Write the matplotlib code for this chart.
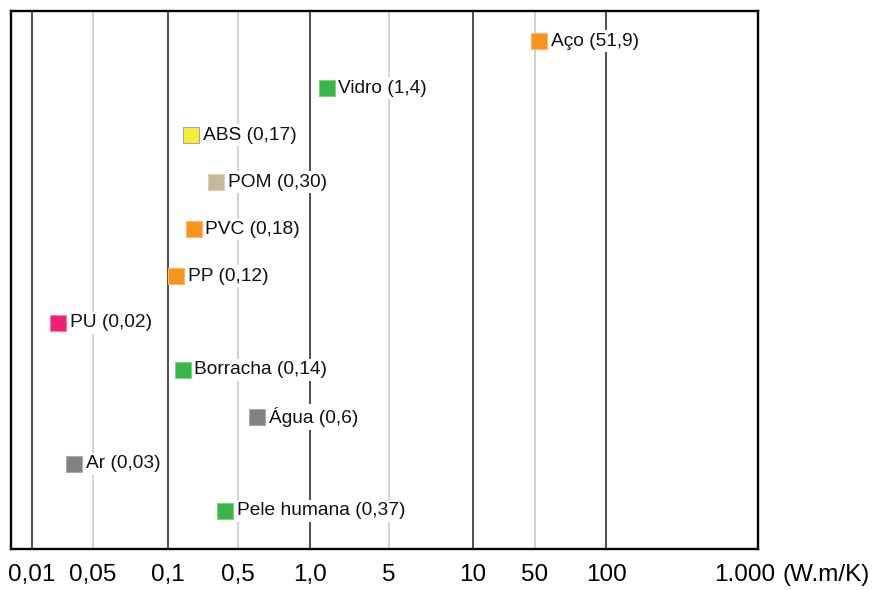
import matplotlib
matplotlib.use('Agg')
import matplotlib.pyplot as plt
import numpy as np

plt.rcParams['font.family'] = ['Liberation Sans', 'DejaVu Sans']

# Data: thermal conductivity (W.m/K)
materials = ['Aço', 'Vidro', 'ABS', 'POM', 'PVC', 'PP', 'PU', 'Borracha', 'Água', 'Ar', 'Pele humana']
values = [51.9, 1.4, 0.17, 0.30, 0.18, 0.12, 0.02, 0.14, 0.6, 0.03, 0.37]
value_text = ['51,9', '1,4', '0,17', '0,30', '0,18', '0,12', '0,02', '0,14', '0,6', '0,03', '0,37']
colors = ['#F7941D', '#39B54A', '#F4EC3A', '#C4B79D', '#F7941D', '#F7941D',
          '#EC2176', '#39B54A', '#808285', '#808285', '#39B54A']
edge_colors = ['#FBB86A', '#7ED08A', '#A8A8A8', '#D8CEBA', '#FBB86A', '#FBB86A',
               '#F57AAA', '#7ED08A', '#A8A9AB', '#A8A9AB', '#7ED08A']

tick_vals = [0.01, 0.05, 0.1, 0.5, 1, 5, 10, 50, 100, 1000]
tick_text = ['0,01', '0,05', '0,1', '0,5', '1,0', '5', '10', '50', '100', '1.000']
major_lines = [0.01, 0.1, 1, 10, 100]
minor_lines = [0.05, 0.5, 5, 50]

# hand-drawn axis: piecewise log scale between the labelled ticks
scale_vals = np.log10([0.001, 0.01, 0.05, 0.1, 0.5, 1, 5, 10, 50, 100, 1000, 10000])
scale_pos = [-104, 32, 93, 168, 238, 310, 389, 473, 535, 606, 745, 884]


def forward(x):
    x = np.asarray(x, dtype=float)
    return np.interp(np.log10(np.clip(x, 1e-9, None)), scale_vals, scale_pos)


def inverse(p):
    return 10 ** np.interp(np.asarray(p, dtype=float), scale_pos, scale_vals)


fig = plt.figure(figsize=(8.9, 5.9), dpi=100)
ax = fig.add_axes([11 / 890, 41 / 590, 747 / 890, 538 / 590])
ax.set_xscale('function', functions=(forward, inverse))
ax.set_xlim(0.007, 1240)

n = len(materials)
ax.set_ylim(n - 1 + 0.81, -0.64)
ax.set_yticks([])

for v in major_lines:
    ax.axvline(v, color='#4d4d4d', lw=1.4, zorder=1)
for v in minor_lines:
    ax.axvline(v, color='#d0d0d0', lw=1.4, zorder=1)

for i, (m, v, t) in enumerate(zip(materials, values, value_text)):
    ax.plot(v, i, marker='s', ms=11.5, color=colors[i], mec=edge_colors[i],
            mew=0.8, zorder=4)
    ax.annotate(f'{m} ({t})', (v, i), xytext=(8.5, 0), textcoords='offset points',
                ha='left', va='center', fontsize=13.8, color='#111111', zorder=3,
                bbox=dict(boxstyle='square,pad=0.15', fc='white', ec='none'))

ax.set_xticks(tick_vals)
ax.set_xticklabels(tick_text, fontsize=17.5)
ax.xaxis.set_minor_locator(matplotlib.ticker.NullLocator())
ax.tick_params(axis='x', which='both', length=0, pad=11)
ax.annotate('(W.m/K)', (1000, 0), xycoords=('data', 'axes fraction'),
            xytext=(27, -11), textcoords='offset points', ha='left', va='top',
            fontsize=17.5, annotation_clip=False)

for s in ax.spines.values():
    s.set_linewidth(1.7)
    s.set_color('black')

fig.savefig('out.png', dpi=100)
